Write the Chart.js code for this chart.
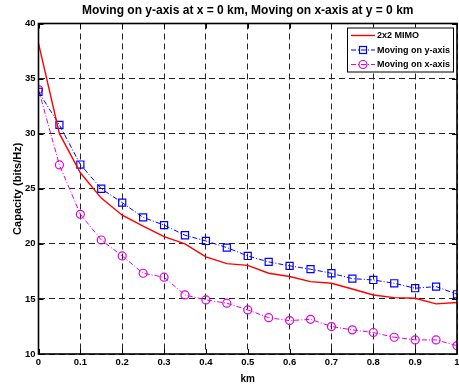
<!DOCTYPE html>
<html>
<head>
<meta charset="utf-8">
<script src="https://cdn.jsdelivr.net/npm/chart.js@4.4.1/dist/chart.umd.min.js"></script>
<style>
  html, body { margin: 0; padding: 0; background: #fff; }
  #wrap { width: 459px; height: 385px; }
</style>
</head>
<body>
<div id="wrap"><canvas id="cap"></canvas></div>
<script>
// distance in km
const km = [0, 0.05, 0.1, 0.15, 0.2, 0.25, 0.3, 0.35, 0.4, 0.45, 0.5,
            0.55, 0.6, 0.65, 0.7, 0.75, 0.8, 0.85, 0.9, 0.95, 1];

const mimo = [38.2, 30.0, 26.45, 24.15, 22.6, 21.6, 20.65, 20.0, 18.82, 18.2, 18.05,
              17.33, 17.03, 16.57, 16.42, 15.9, 15.36, 15.12, 15.06, 14.55, 14.67];
const onY  = [33.8, 30.8, 27.2, 25.0, 23.74, 22.4, 21.7, 20.78, 20.26, 19.66, 18.9,
              18.36, 18.0, 17.7, 17.33, 16.84, 16.72, 16.42, 15.97, 16.12, 15.42];
const onX  = [34.0, 27.16, 22.68, 20.35, 18.9, 17.33, 16.97, 15.36, 14.91, 14.61, 14.0,
              13.3, 13.03, 13.15, 12.49, 12.19, 11.95, 11.52, 11.28, 11.28, 10.76];

const xTicks = [0, 0.1, 0.2, 0.3, 0.4, 0.5, 0.6, 0.7, 0.8, 0.9, 1];
const yTicks = [10, 15, 20, 25, 30, 35, 40];

const FONT = '"Liberation Sans", Arial, Helvetica, sans-serif';

function pts(vals) {
  return km.map((x, i) => ({ x, y: vals[i] }));
}

// axes box + MATLAB style inward ticks
const boxPlugin = {
  id: 'box',
  afterDraw(chart) {
    const { ctx, chartArea: a, scales } = chart;
    ctx.save();
    ctx.strokeStyle = '#000';
    ctx.lineWidth = 1;
    ctx.beginPath();
    xTicks.forEach(v => {
      const px = Math.round(scales.x.getPixelForValue(v)) + 0.5;
      ctx.moveTo(px, a.bottom); ctx.lineTo(px, a.bottom - 5);
      ctx.moveTo(px, a.top); ctx.lineTo(px, a.top + 5);
    });
    yTicks.forEach(v => {
      const py = Math.round(scales.y.getPixelForValue(v)) + 0.5;
      ctx.moveTo(a.left, py); ctx.lineTo(a.left + 5, py);
      ctx.moveTo(a.right, py); ctx.lineTo(a.right - 5, py);
    });
    ctx.stroke();
    ctx.lineWidth = 1.6;
    ctx.strokeRect(a.left, a.top, a.right - a.left, a.bottom - a.top);
    ctx.restore();
  }
};

// legend box in the top right corner of the axes
const legendPlugin = {
  id: 'boxLegend',
  afterDraw(chart) {
    const { ctx, chartArea: a } = chart;
    const w = 106, h = 44;
    const x0 = a.right - w - 4, y0 = a.top + 4;
    ctx.save();
    ctx.fillStyle = '#fff';
    ctx.fillRect(x0, y0, w, h);
    ctx.lineWidth = 1;
    ctx.strokeStyle = '#000';
    ctx.strokeRect(x0 + 0.5, y0 + 0.5, w, h);
    ctx.font = 'bold 9px ' + FONT;
    ctx.textBaseline = 'middle';
    chart.data.datasets.forEach((ds, i) => {
      const y = y0 + 8 + i * 14.5;
      ctx.strokeStyle = ds.borderColor;
      ctx.lineWidth = ds.borderWidth;
      ctx.setLineDash(ds.borderDash || []);
      ctx.beginPath();
      ctx.moveTo(x0 + 4, y); ctx.lineTo(x0 + 28, y);
      ctx.stroke();
      ctx.setLineDash([]);
      if (ds.pointStyle === 'rect') {
        ctx.lineWidth = 1.2;
        ctx.strokeRect(x0 + 16 - 3.5, y - 3.5, 7, 7);
      } else if (ds.pointStyle === 'circle') {
        ctx.lineWidth = 1.2;
        ctx.beginPath();
        ctx.arc(x0 + 16, y, 4, 0, Math.PI * 2);
        ctx.stroke();
      }
      ctx.fillStyle = '#000';
      ctx.fillText(ds.label, x0 + 30, y + 0.5);
    });
    ctx.restore();
  }
};

new Chart(document.getElementById('cap'), {
  type: 'line',
  data: {
    datasets: [
      {
        label: '2x2 MIMO',
        data: pts(mimo),
        borderColor: '#ff0000',
        borderWidth: 1.4,
        pointRadius: 0,
        pointStyle: false,
        tension: 0
      },
      {
        label: 'Moving on y-axis',
        data: pts(onY),
        borderColor: '#0000ff',
        borderWidth: 1,
        borderDash: [5, 2, 1, 2],
        pointStyle: 'rect',
        pointRadius: 5,
        pointBorderWidth: 1.2,
        pointBackgroundColor: 'rgba(0,0,0,0)',
        pointBorderColor: '#0000ff',
        tension: 0
      },
      {
        label: 'Moving on x-axis',
        data: pts(onX),
        borderColor: '#e000e0',
        borderWidth: 1,
        borderDash: [5, 2, 1, 2],
        pointStyle: 'circle',
        pointRadius: 4,
        pointBorderWidth: 1.2,
        pointBackgroundColor: 'rgba(0,0,0,0)',
        pointBorderColor: '#e000e0',
        tension: 0
      }
    ]
  },
  options: {
    responsive: true,
    maintainAspectRatio: false,
    animation: false,
    events: [],
    layout: { autoPadding: false, padding: { left: 0, right: 2, top: 0, bottom: 0 } },
    plugins: {
      legend: { display: false },
      tooltip: { enabled: false }
    },
    scales: {
      x: {
        type: 'linear',
        min: 0, max: 1,
        afterFit: s => { s.height = 31; s.paddingRight = 0; s.paddingLeft = 0; },
        afterBuildTicks: s => { s.ticks = xTicks.map(v => ({ value: v })); },
        ticks: {
          color: '#000',
          padding: 3,
          maxRotation: 0,
          autoSkip: false,
          font: { family: FONT, size: 9.5, weight: 'bold' },
          callback: v => String(v)
        },
        grid: { color: '#222', lineWidth: 1, drawTicks: false },
        border: { display: false, dash: [6, 4] },
        title: {
          display: true,
          text: 'km',
          color: '#000',
          font: { family: FONT, size: 10, weight: 'bold' },
          padding: { top: 2, bottom: 0 }
        }
      },
      // top axis only carries the plot title, centred over the axes
      top: {
        type: 'linear',
        position: 'top',
        min: 0, max: 1,
        afterFit: s => { s.height = 23.5; s.paddingRight = 0; s.paddingLeft = 0; },
        ticks: { display: false },
        grid: { display: false },
        border: { display: false },
        title: {
          display: true,
          text: 'Moving on y-axis at x = 0 km, Moving on x-axis at y = 0 km',
          color: '#000',
          font: { family: FONT, size: 12, weight: 'bold' },
          padding: { top: 3, bottom: 0 }
        }
      },
      y: {
        min: 10, max: 40,
        afterFit: s => { s.width = 38.5; },
        afterBuildTicks: s => { s.ticks = yTicks.map(v => ({ value: v })); },
        ticks: {
          color: '#000',
          padding: 3,
          font: { family: FONT, size: 9.5, weight: 'bold' }
        },
        grid: { color: '#222', lineWidth: 1, drawTicks: false },
        border: { display: false, dash: [6, 4] },
        title: {
          display: true,
          text: 'Capacity (bits/Hz)',
          color: '#000',
          font: { family: FONT, size: 11, weight: 'bold' },
          padding: { top: 11, bottom: 0 }
        }
      }
    }
  },
  plugins: [boxPlugin, legendPlugin]
});
</script>
</body>
</html>
